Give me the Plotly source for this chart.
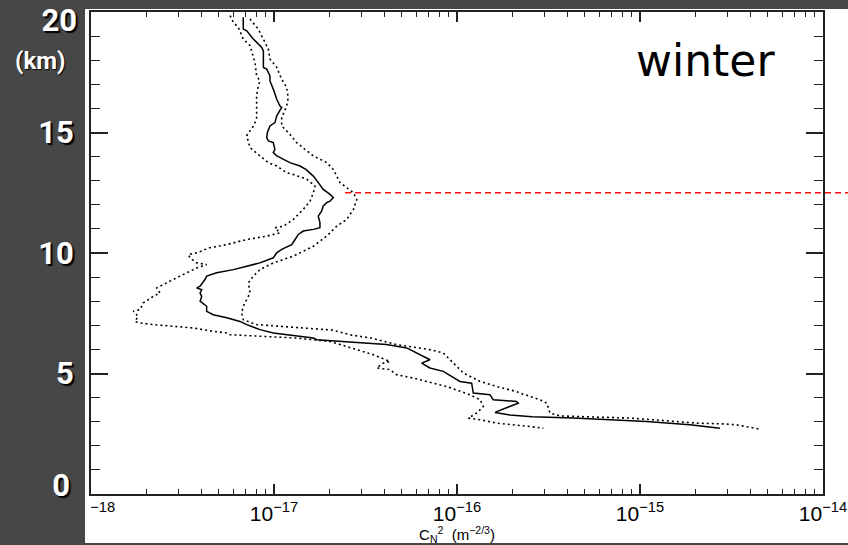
import plotly.graph_objects as go

# ---- data (height in km, log10 of Cn^2 in m^-2/3) ----
median_km = [19.78, 19.29, 19.22, 18.88, 18.53, 18.39, 17.70, 17.63, 17.35, 17.14, 16.80, 16.38,
             16.10, 16.04, 15.69, 15.41, 15.27, 15.00, 14.79, 14.65, 14.58, 14.30, 14.17, 14.03,
             13.75, 13.61, 13.47, 13.19, 12.92, 12.64, 12.43, 12.30, 12.15, 12.09, 11.95, 11.74,
             11.53, 11.26, 11.05, 10.98, 10.91, 10.77, 10.56, 10.35, 10.15, 10.01, 9.80, 9.59,
             9.45, 9.31, 9.18, 9.04, 8.90, 8.62, 8.55, 8.48, 8.34, 8.20, 8.00, 7.79, 7.58, 7.44,
             7.31, 7.16, 7.03, 6.82, 6.68, 6.61, 6.54, 6.47, 6.40, 6.33, 6.27, 6.20, 6.06, 5.85,
             5.57, 5.43, 5.23, 5.09, 4.67, 4.60, 4.19, 4.12, 3.91, 3.84, 3.77, 3.42, 3.38, 3.28,
             3.21, 3.15, 3.08, 3.01, 2.94, 2.87, 2.73]
median_log = [-17.168, -17.168, -17.149, -17.113, -17.067, -17.058, -17.058, -17.040, -17.022, -17.022,
              -17.004, -16.985, -16.967, -16.958, -16.985, -16.995, -17.022, -17.036, -17.040, -17.031,
              -17.004, -16.995, -17.004, -16.985, -16.913, -16.858, -16.826, -16.785, -16.758, -16.731,
              -16.694, -16.676, -16.694, -16.712, -16.731, -16.740, -16.758, -16.749, -16.749, -16.785,
              -16.840, -16.867, -16.885, -16.903, -16.958, -16.985, -17.004, -17.077, -17.149, -17.222,
              -17.313, -17.368, -17.377, -17.404, -17.422, -17.395, -17.404, -17.395, -17.404, -17.368,
              -17.368, -17.332, -17.258, -17.186, -17.149, -17.077, -17.004, -16.931, -16.858, -16.785,
              -16.767, -16.639, -16.512, -16.385, -16.275, -16.220, -16.148, -16.193, -16.148, -16.075,
              -15.984, -15.920, -15.911, -15.820, -15.802, -15.674, -15.665, -15.783, -15.792, -15.710,
              -15.590, -15.364, -15.146, -14.964, -14.836, -14.727, -14.563]

lower_km = [19.85, 19.57, 19.36, 18.88, 18.60, 18.18, 17.91, 17.35, 17.14, 16.94, 16.52, 15.97,
            15.55, 15.14, 15.00, 14.86, 14.58, 14.37, 14.03, 13.75, 13.61, 13.47, 13.33, 13.26,
            13.06, 12.78, 12.50, 12.15, 11.81, 11.39, 11.11, 11.05, 10.84, 10.70, 10.56, 10.35,
            10.22, 10.01, 9.94, 9.80, 9.59, 9.52, 9.38, 9.04, 8.76, 8.55, 8.34, 8.20, 7.93, 7.65,
            7.58, 7.37, 7.16, 7.10, 7.03, 6.96, 6.89, 6.75, 6.68, 6.61, 6.54, 6.47, 6.33, 5.99,
            5.78, 5.50, 5.43, 5.23, 5.16, 4.95, 4.81, 4.46, 4.12, 3.91, 3.63, 3.36, 3.15, 3.08,
            2.94, 2.80, 2.73]
lower_log = [-17.240, -17.222, -17.195, -17.168, -17.131, -17.113, -17.104, -17.095, -17.077, -17.086,
             -17.095, -17.095, -17.095, -17.122, -17.140, -17.149, -17.140, -17.131, -17.077, -17.031,
             -16.985, -16.958, -16.931, -16.895, -16.821, -16.776, -16.785, -16.803, -16.840, -16.895,
             -16.949, -16.995, -16.967, -17.040, -17.149, -17.258, -17.350, -17.422, -17.468, -17.459,
             -17.422, -17.368, -17.422, -17.514, -17.586, -17.641, -17.623, -17.660, -17.714, -17.732,
             -17.769, -17.742, -17.760, -17.732, -17.660, -17.550, -17.441, -17.332, -17.258, -17.240,
             -17.058, -16.876, -16.694, -16.548, -16.457, -16.366, -16.403, -16.439, -16.366, -16.330,
             -16.239, -16.057, -15.929, -15.874, -15.856, -15.892, -15.938, -15.874, -15.783, -15.601,
             -15.528]

upper_km = [19.71, 19.29, 18.74, 18.46, 18.05, 17.70, 17.21, 16.87, 16.45, 16.10, 15.62, 15.27,
            15.00, 14.58, 14.30, 14.03, 13.75, 13.47, 12.92, 12.50, 12.22, 11.81, 11.39, 11.11,
            10.70, 10.28, 9.87, 9.59, 9.31, 9.04, 8.76, 8.34, 8.07, 7.79, 7.51, 7.23, 7.03, 6.96,
            6.80, 6.60, 6.47, 6.20, 5.99, 5.85, 5.57, 5.02, 4.67, 4.46, 4.25, 4.19, 3.91, 3.77,
            3.36, 3.24, 3.19, 3.15, 3.05, 2.94, 2.91, 2.87, 2.69]
upper_log = [-17.131, -17.086, -17.049, -17.031, -17.022, -16.985, -16.958, -16.931, -16.922, -16.931,
             -16.958, -16.958, -16.922, -16.876, -16.831, -16.785, -16.712, -16.676, -16.639, -16.566,
             -16.548, -16.566, -16.603, -16.658, -16.712, -16.785, -16.894, -17.004, -17.077, -17.113,
             -17.140, -17.131, -17.149, -17.168, -17.177, -17.168, -17.095, -16.967, -16.680, -16.580,
             -16.470, -16.330, -16.148, -16.075, -16.038, -15.965, -15.874, -15.783, -15.674, -15.656,
             -15.546, -15.510, -15.492, -15.437, -15.237, -15.055, -14.873, -14.690, -14.545, -14.472,
             -14.344]

tropopause_km = 12.5
season_label = "winter"

x_tick_exps = [-18, -17, -16, -15, -14]
y_tick_vals = [0, 5, 10, 15, 20]
y_tick_text = ["", "5", "10", "15", ""]   # end labels drawn on helper axes (nudged inwards)

DARK = "#474747"
YFONT = dict(family="Roboto", size=31, color="white", weight="bold",
             shadow="2px 2px 1px black")

fig = go.Figure()
for xs_log, ys, dash, width in [
    (lower_log, lower_km, "2px,3px", 1.6),
    (upper_log, upper_km, "2px,3px", 1.6),
    (median_log, median_km, "solid", 1.5),
]:
    fig.add_trace(go.Scatter(
        x=[10 ** v for v in xs_log], y=ys, mode="lines",
        line=dict(color="black", width=width, dash=dash),
        showlegend=False, hoverinfo="skip"))
# invisible anchors for the helper y axes
for ya in ["y2", "y3"]:
    fig.add_trace(go.Scatter(x=[None], y=[None], yaxis=ya, mode="lines",
                             showlegend=False, hoverinfo="skip"))

x_ticktext = []
for e in x_tick_exps:
    if e == -18:
        # the mantissa falls behind the dark frame in the reference
        x_ticktext.append(f"\u2007\u2007<sup>\u2212{abs(e)}</sup>")
    else:
        x_ticktext.append(f"10<sup>\u2212{abs(e)}</sup>")

minor_x = [k * 10.0 ** e for e in x_tick_exps[:-1] for k in range(2, 10)]

# plot area pixel geometry (848 x 545)
L, R, T, B = 91, 25, 12, 51
W, H = 848, 545
pw, ph = W - L - R, H - T - B
def px(xpix):
    return (xpix - L) / pw
def py(ypix):
    return (H - B - ypix) / ph

fig.update_layout(
    width=W, height=H,
    margin=dict(l=L, r=R, t=T, b=B, pad=0),
    paper_bgcolor=DARK, plot_bgcolor="white",
    shapes=[
        dict(type="rect", xref="paper", yref="paper", layer="below",
             x0=px(85), x1=px(852), y0=py(543), y1=py(9),
             fillcolor="white", line=dict(width=0)),
        dict(type="line", xref="paper", yref="paper", layer="above",
             x0=px(345), x1=px(852), y0=tropopause_km / 20, y1=tropopause_km / 20,
             line=dict(color="#ff1010", width=1.5, dash="6px,4px")),
    ],
    annotations=[
        dict(text=season_label, xref="paper", yref="paper", x=px(705), y=py(61),
             showarrow=False, xanchor="center", yanchor="middle",
             font=dict(family="DejaVu Sans", size=44, color="black")),
        dict(text="(km)", xref="paper", yref="paper", x=px(40), y=py(61),
             showarrow=False, xanchor="center", yanchor="middle",
             font=dict(family="Roboto", size=24, color="white", weight="bold",
                       shadow="1px 1px 1px black")),
    ],
)

fig.update_xaxes(
    type="log", range=[-18, -14], autorange=False, automargin=False,
    showgrid=False, zeroline=False,
    showline=True, linecolor="#222", linewidth=2, mirror="ticks",
    ticks="inside", ticklen=10, tickwidth=1.5, tickcolor="#222",
    tickmode="array", tickvals=[10.0 ** e for e in x_tick_exps], ticktext=x_ticktext,
    tickfont=dict(family="Liberation Sans", size=21, color="black"),
    ticklabeloverflow="allow",
    minor=dict(ticks="inside", ticklen=5, tickwidth=1.2, tickcolor="#222",
               tickmode="array", tickvals=minor_x, showgrid=False),
    title=dict(text="C<sub>N</sub><sup>2</sup>  (m<sup>\u22122/3</sup>)",
               font=dict(family="Liberation Sans", size=15, color="black"), standoff=7),
)

fig.update_layout(
    yaxis=dict(
        range=[0, 20], autorange=False, automargin=False,
        showgrid=False, zeroline=False,
        showline=True, linecolor="#222", linewidth=2, mirror="ticks",
        ticks="inside", ticklen=17, tickwidth=1.5, tickcolor="#222",
        tickmode="array", tickvals=y_tick_vals, ticktext=y_tick_text,
        ticklabelstandoff=9, ticklabeloverflow="allow",
        tickfont=YFONT,
        minor=dict(ticks="inside", ticklen=9, tickwidth=1.2, tickcolor="#222",
                   dtick=1, showgrid=False),
    ),
    yaxis2=dict(
        overlaying="y", anchor="x", side="left", range=[0, 20], autorange=False,
        automargin=False, showgrid=False, zeroline=False, showline=False, ticks="",
        tickmode="array", tickvals=[y_tick_vals[-1]], ticktext=[str(y_tick_vals[-1])],
        ticklabelshift=8, ticklabelstandoff=13, ticklabeloverflow="allow", tickfont=YFONT,
    ),
    yaxis3=dict(
        overlaying="y", anchor="x", side="left", range=[0, 20], autorange=False,
        automargin=False, showgrid=False, zeroline=False, showline=False, ticks="",
        tickmode="array", tickvals=[y_tick_vals[0]], ticktext=[str(y_tick_vals[0])],
        ticklabelshift=-9, ticklabelstandoff=20, ticklabeloverflow="allow", tickfont=YFONT,
    ),
)

fig.write_html("out.html")
